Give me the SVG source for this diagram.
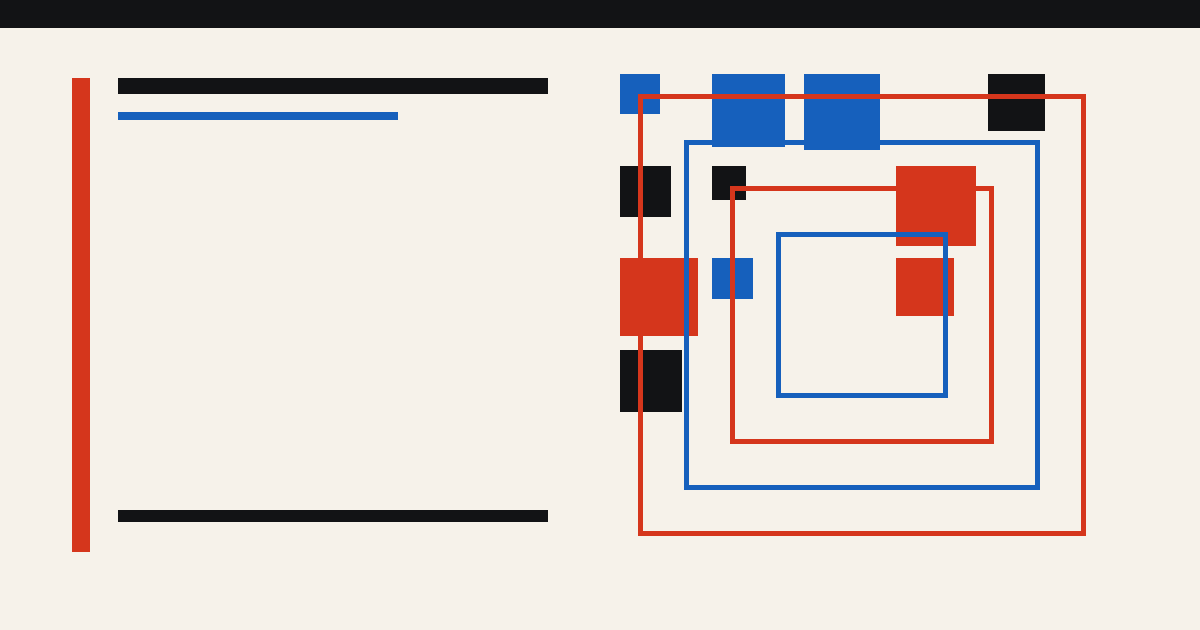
<svg xmlns="http://www.w3.org/2000/svg" width="1200" height="630" viewBox="0 0 1200 630">
  <style>
    .r{fill:#D5361C}
    .b{fill:#1660BC}
    .k{fill:#121315}
    .fr{fill:none;stroke:#D5361C;stroke-width:5}
    .fb{fill:none;stroke:#1660BC;stroke-width:5}
  </style>
  <rect x="0" y="0" width="1200" height="630" fill="#F6F2EA"/>
  <rect class="k" x="0" y="0" width="1200" height="28"/>
  <g id="left">
    <rect class="r" x="72" y="78" width="18" height="474"/>
    <rect class="k" x="118" y="78" width="430" height="16"/>
    <rect class="b" x="118" y="112" width="280" height="8"/>
    <rect class="k" x="118" y="510" width="430" height="12"/>
  </g>
  <g id="squares">
    <rect class="b" x="620" y="74" width="40" height="40"/>
    <rect class="b" x="712" y="74" width="73" height="73"/>
    <rect class="b" x="804" y="74" width="76" height="76"/>
    <rect class="k" x="988" y="74" width="57" height="57"/>
    <rect class="k" x="620" y="166" width="51" height="51"/>
    <rect class="k" x="712" y="166" width="34" height="34"/>
    <rect class="r" x="896" y="166" width="80" height="80"/>
    <rect class="r" x="620" y="258" width="78" height="78"/>
    <rect class="b" x="712" y="258" width="41" height="41"/>
    <rect class="r" x="896" y="258" width="58" height="58"/>
    <rect class="k" x="620" y="350" width="62" height="62"/>
  </g>
  <g id="frames">
    <rect class="fr" x="640.5" y="96.5" width="443" height="437"/>
    <rect class="fb" x="686.5" y="142.5" width="351" height="345"/>
    <rect class="fr" x="732.5" y="188.5" width="259" height="253"/>
    <rect class="fb" x="778.5" y="234.5" width="167" height="161"/>
  </g>
</svg>
